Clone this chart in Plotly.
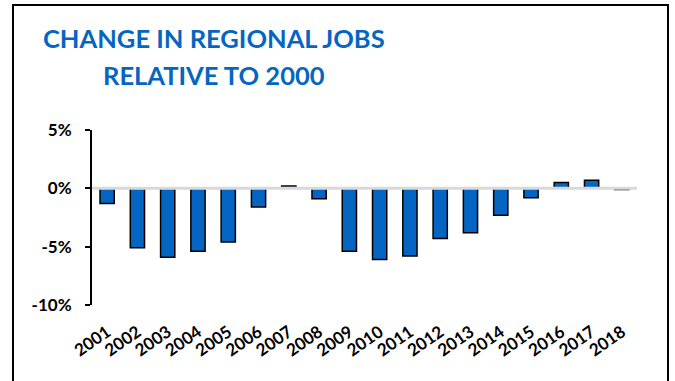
import plotly.graph_objects as go

# Change in regional jobs relative to 2000 (percent)
years = ["2001", "2002", "2003", "2004", "2005", "2006", "2007", "2008", "2009",
         "2010", "2011", "2012", "2013", "2014", "2015", "2016", "2017", "2018"]
change_pct = [-1.3, -5.1, -5.9, -5.4, -4.6, -1.6, 0.2, -0.9, -5.4,
              -6.1, -5.8, -4.3, -3.8, -2.3, -0.8, 0.5, 0.7, -0.1]

y_ticks = [5, 0, -5, -10]
y_tick_labels = ["5%", "0%", "-5%", "-10%"]

W, H = 675, 381
ML, MR, MT, MB = 92, 38, 130, 76

BLUE = "#0565c2"
FONT = "Lato"

fig = go.Figure()
fig.add_trace(go.Bar(
    x=years,
    y=change_pct,
    marker=dict(color=BLUE, line=dict(color="black", width=1.5)),
    hoverinfo="x+y",
))

def px_x(p):
    return (p - ML) / (W - ML - MR)

def px_y(p):
    return (H - MB - p) / (H - MT - MB)

shapes = [
    # outer frame of the chart area
    dict(type="rect", xref="paper", yref="paper",
         x0=px_x(13), x1=px_x(668), y0=px_y(395), y1=px_y(5),
         line=dict(color="black", width=2), layer="above"),
    # zero reference line, drawn over the bars
    dict(type="line", xref="paper", yref="y", x0=0, x1=1, y0=0, y1=0,
         line=dict(color="#d9d9d9", width=3), layer="above"),
]

title_lines = ["CHANGE IN REGIONAL JOBS", "RELATIVE TO 2000"]
annotations = [
    dict(text=f"<b>{t}</b>", xref="paper", yref="paper",
         x=px_x(214), y=px_y(yc), xanchor="center", yanchor="middle",
         showarrow=False, font=dict(family=FONT, size=25.5, color=BLUE))
    for t, yc in zip(title_lines, [38, 75])
]

fig.update_layout(
    width=W, height=H,
    margin=dict(l=ML, r=MR, t=MT, b=MB, pad=0),
    paper_bgcolor="white", plot_bgcolor="white",
    showlegend=False,
    bargap=0.53,
    shapes=shapes,
    annotations=annotations,
    xaxis=dict(
        type="category", showgrid=False, zeroline=False, showline=False,
        ticks="", tickangle=-35,
        tickfont=dict(family=FONT, size=17, color="black", weight="bold"),
        ticklabelstandoff=13,
    ),
    yaxis=dict(
        range=[-10, 5], showgrid=False, zeroline=False,
        showline=True, linecolor="black", linewidth=2,
        ticks="outside", ticklen=5, tickwidth=2, tickcolor="black",
        tickvals=y_ticks, ticktext=y_tick_labels,
        tickfont=dict(family=FONT, size=17, color="black", weight="bold"),
        ticklabelstandoff=10,
    ),
)

fig.write_html("out.html")
